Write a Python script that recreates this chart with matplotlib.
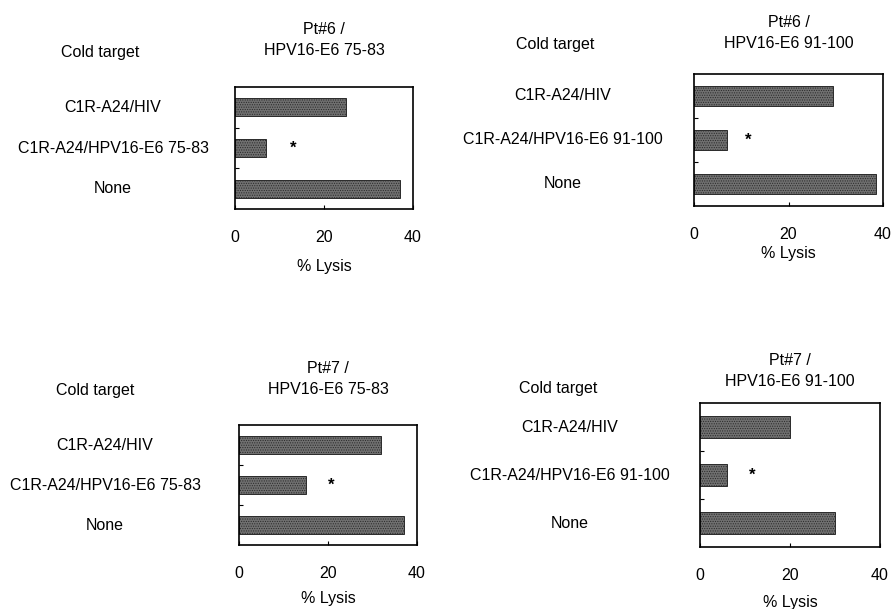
import matplotlib
matplotlib.use("Agg")
import matplotlib.pyplot as plt
from matplotlib.transforms import blended_transform_factory

plt.rcParams['font.family'] = ['Liberation Sans', 'DejaVu Sans']
plt.rcParams['hatch.linewidth'] = 0.5

# ---- data ----
titles = ["Pt#6 /\nHPV16-E6 75-83", "Pt#6 /\nHPV16-E6 91-100",
          "Pt#7 /\nHPV16-E6 75-83", "Pt#7 /\nHPV16-E6 91-100"]
cats_7583 = ["C1R-A24/HIV", "C1R-A24/HPV16-E6 75-83", "None"]
cats_91100 = ["C1R-A24/HIV", "C1R-A24/HPV16-E6 91-100", "None"]
lysis_pt6_7583 = [25, 7, 37]
lysis_pt6_91100 = [29.5, 7, 38.5]
lysis_pt7_7583 = [32, 15, 37]
lysis_pt7_91100 = [20, 6, 30]
x_ticks = [0, 20, 40]
sig_index = 1  # category marked with *
xlabel = "% Lysis"
col_header = "Cold target"

panels_data = [
    (titles[0], cats_7583, lysis_pt6_7583),
    (titles[1], cats_91100, lysis_pt6_91100),
    (titles[2], cats_7583, lysis_pt7_7583),
    (titles[3], cats_91100, lysis_pt7_91100),
]

# ---- layout (pixels) ----
W, H = 893, 609
FS = 11.5
layout = [
    dict(box=(235, 87, 413, 209), label_x=113, header=(100, 53), title_pad=23, xl=267, star=6.0),
    dict(box=(694, 74, 883, 206), label_x=563, header=(555, 45), title_pad=19, xl=253, star=4.5),
    dict(box=(239, 425, 417, 545), label_x=105, header=(95, 390), title_pad=22, xl=598, star=5.7),
    dict(box=(700, 403, 880, 547), label_x=570, header=(558, 389), title_pad=12, xl=602, star=5.6),
]

fig = plt.figure(figsize=(W / 100, H / 100), dpi=100)

for (title, cats, vals), lay in zip(panels_data, layout):
    x0, y0, x1, y1 = lay['box']
    ax = fig.add_axes([x0 / W, 1 - y1 / H, (x1 - x0) / W, (y1 - y0) / H])
    ypos = list(range(len(cats)))
    ax.barh(ypos, vals, height=0.45, color='#707070', edgecolor='#2a2a2a',
            hatch='.......', linewidth=0.7)
    ax.set_xlim(0, 40)
    ax.set_ylim(len(cats) - 0.5, -0.5)
    ax.set_xticks(x_ticks)
    ax.set_xticklabels([str(t) for t in x_ticks], fontsize=FS)
    ax.tick_params(axis='x', direction='in', length=3, pad=15, width=0.8)
    ax.set_yticks([0.5, 1.5])
    ax.set_yticklabels([])
    ax.tick_params(axis='y', direction='in', length=3, width=0.8)
    for s in ax.spines.values():
        s.set_linewidth(1.2)
    ax.set_title(title, fontsize=FS, pad=lay['title_pad'], linespacing=1.5)

    # star marking significance
    ax.text(vals[sig_index] + lay['star'], sig_index, "*", ha='center', va='center',
            fontsize=12, fontweight='bold')

    # category labels in a column at left
    tr = blended_transform_factory(fig.transFigure, ax.transData)
    for yp, c in zip(ypos, cats):
        ax.text(lay['label_x'] / W, yp, c, transform=tr, ha='center', va='center',
                fontsize=FS, clip_on=False)

    hx, hy = lay['header']
    fig.text(hx / W, 1 - hy / H, col_header, ha='center', va='center', fontsize=FS)

    # x label
    fig.text(((x0 + x1) / 2) / W, 1 - lay['xl'] / H, xlabel, ha='center', va='center',
             fontsize=FS)

fig.savefig("out.png", dpi=100, facecolor='white')
